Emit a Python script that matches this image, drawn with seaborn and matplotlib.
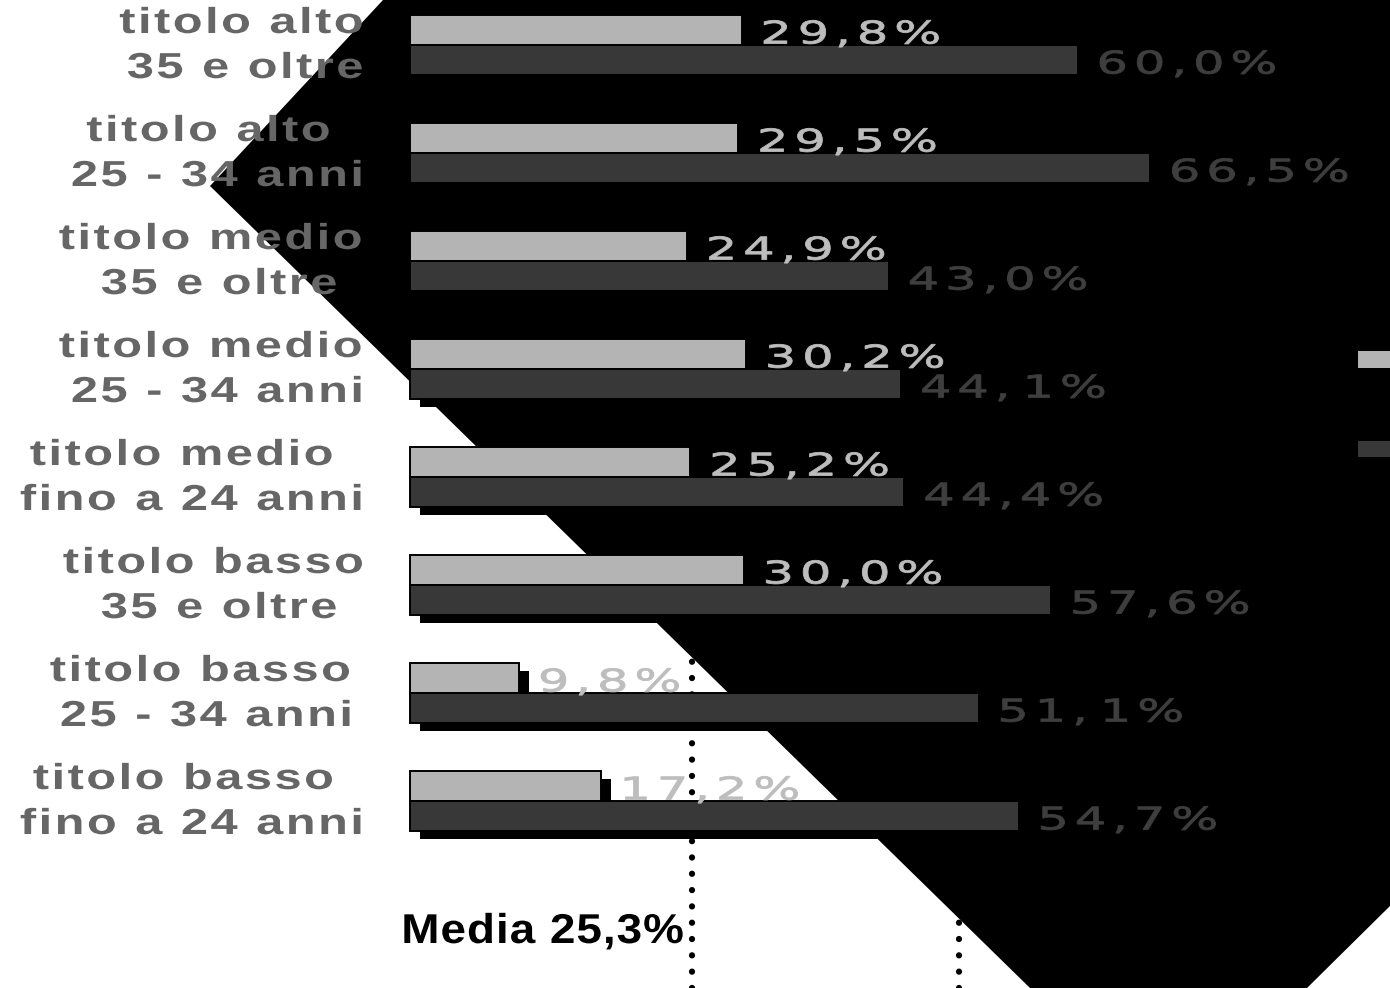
import numpy as np
import pandas as pd
import matplotlib
matplotlib.use("Agg")
import matplotlib.pyplot as plt
import seaborn as sns
from matplotlib.patches import Polygon, Rectangle
from matplotlib.patheffects import AbstractPathEffect
from matplotlib.path import Path
from matplotlib.transforms import IdentityTransform, offset_copy

# ---- data -------------------------------------------------------------
CATEGORIES = [
    "titolo alto\n35 e oltre",
    "titolo alto\n25 - 34 anni",
    "titolo medio\n35 e oltre",
    "titolo medio\n25 - 34 anni",
    "titolo medio\nfino a 24 anni",
    "titolo basso\n35 e oltre",
    "titolo basso\n25 - 34 anni",
    "titolo basso\nfino a 24 anni",
]
SERIES = ["quota 1", "quota 2"]
VALUES_1 = [29.8, 29.5, 24.9, 30.2, 25.2, 30.0, 9.8, 17.2]
VALUES_2 = [60.0, 66.5, 43.0, 44.1, 44.4, 57.6, 51.1, 54.7]
MEAN_1 = 25.3
MEAN_2 = 49.3
MEAN_1_LABEL = "Media 25,3%"

# ---- layout -----------------------------------------------------------
W, H = 1390, 988
X0_PX, PX_PER_UNIT = 410, 11.13      # horizontal value scale
ROW0_PX, ROW_PX = 45, 108            # vertical category scale
LABEL_RIGHT_PX = [(363, 363), (330, 363), (362, 337), (362, 363),
                  (333, 363), (363, 337), (350, 352), (333, 363)]

C_LIGHT, C_DARK = "#b4b4b4", "#383838"
C_LIGHT_TXT, C_DARK_TXT = "#bdbdbd", "#3e3e3e"
C_CAT = "#666666"


class Tracked(AbstractPathEffect):
    """Widen text: stretch glyph outlines horizontally, add letter spacing
    and optionally embolden the outline."""

    def __init__(self, stretch=1.0, track=0.0, anchor="left", weight=0.0):
        super().__init__()
        self.stretch = stretch
        self.track = track
        self.anchor = anchor
        self.weight = weight

    def _draw(self, renderer, gc, path, rgbFace):
        if self.weight > 0 and rgbFace is not None:
            gc0 = renderer.new_gc()
            gc0.copy_properties(gc)
            gc0.set_linewidth(self.weight)
            gc0.set_foreground(rgbFace)
            gc0.set_joinstyle("round")
            renderer.draw_path(gc0, path, IdentityTransform(), rgbFace)
            gc0.restore()
        else:
            renderer.draw_path(gc, path, IdentityTransform(), rgbFace)

    def draw_path(self, renderer, gc, tpath, affine, rgbFace=None):
        path = affine.transform_path(tpath)
        codes = path.codes
        verts = np.array(path.vertices, dtype=float)
        if codes is None or len(verts) == 0:
            self._draw(renderer, gc, path, rgbFace)
            return
        real = codes != Path.CLOSEPOLY
        starts = np.flatnonzero(codes == Path.MOVETO)
        ends = np.append(starts[1:], len(codes))
        spans = []
        for s, e in zip(starts, ends):
            xs = verts[s:e, 0][real[s:e]]
            if len(xs):
                spans.append((xs.min(), xs.max(), s, e))
        if not spans:
            self._draw(renderer, gc, path, rgbFace)
            return
        spans.sort(key=lambda t: t[0])
        clusters = []
        for x0, x1, s, e in spans:
            if clusters and x0 < clusters[-1][1] - 0.5:
                clusters[-1][1] = max(clusters[-1][1], x1)
                clusters[-1][2].append((s, e))
            else:
                clusters.append([x0, x1, [(s, e)]])
        em = abs(affine.get_matrix()[0, 0]) * 100.0
        ink_l = min(c[0] for c in clusters)
        ink_r = max(c[1] for c in clusters)
        ref = {"left": ink_l, "right": ink_r}.get(self.anchor, (ink_l + ink_r) / 2)
        shifts, acc = [], 0.0
        for j, c in enumerate(clusters):
            if j > 0:
                acc += self.track
                if c[0] - clusters[j - 1][1] > 0.2 * em:
                    acc += self.track
            shifts.append(acc)
        total = acc
        base = {"left": 0.0, "right": -total}.get(self.anchor, -total / 2)
        verts[real, 0] = ref + (verts[real, 0] - ref) * self.stretch
        for c, sh in zip(clusters, shifts):
            for s, e in c[2]:
                verts[s:e, 0] += base + sh
        self._draw(renderer, gc, Path(verts, codes), rgbFace)


def fig_xy(x, y):
    return (x / W, 1 - y / H)


sns.set_style("white")
plt.rcParams["font.family"] = ["DejaVu Sans"]

fig = plt.figure(figsize=(W / 100, H / 100), dpi=100)
ax = fig.add_axes([0, 0, 1, 1])
ax.set_facecolor("white")

df = pd.DataFrame({
    "categoria": CATEGORIES * 2,
    "serie": [SERIES[0]] * len(CATEGORIES) + [SERIES[1]] * len(CATEGORIES),
    "valore": VALUES_1 + VALUES_2,
})

sns.barplot(data=df, y="categoria", x="valore", hue="serie", orient="h",
            order=CATEGORIES, hue_order=SERIES, palette=[C_LIGHT, C_DARK],
            width=0.556, edgecolor="black", linewidth=1.4, saturation=1,
            legend=False, ax=ax, zorder=3)

ax.set_xlim(-X0_PX / PX_PER_UNIT, (W - X0_PX) / PX_PER_UNIT)
ax.set_ylim((H - ROW0_PX) / ROW_PX, -ROW0_PX / ROW_PX)
ax.axis("off")

# black backdrop shape
backdrop = Polygon([fig_xy(383, 0), fig_xy(W, 0), fig_xy(W, 906),
                    fig_xy(1307, H), fig_xy(1030, H), fig_xy(210, 186)],
                   closed=True, facecolor="black", edgecolor="none",
                   transform=fig.transFigure, zorder=0.5)
ax.add_patch(backdrop)

# drop shadows under every bar
shadow_tr = offset_copy(ax.transData, fig=fig, x=10, y=-8, units="dots")
for bar in list(ax.patches):
    if isinstance(bar, Rectangle):
        ax.add_patch(Rectangle((bar.get_x(), bar.get_y()), bar.get_width(),
                               bar.get_height(), facecolor="black",
                               edgecolor="none", transform=shadow_tr, zorder=1.5))

# mean reference lines
for mval in (MEAN_1, MEAN_2):
    ax.axvline(mval, color="black", lw=4.5, linestyle=(0, (0.01, 2.6)),
               dash_capstyle="round", zorder=1)

# value labels
gap = 20 / PX_PER_UNIT
half = 0.556 / 4
for i in range(len(CATEGORIES)):
    for vals, off, col in ((VALUES_1, -half, C_LIGHT_TXT), (VALUES_2, half, C_DARK_TXT)):
        v = vals[i]
        ax.text(v + gap, i + off + 0.125, f"{v:.1f}%".replace(".", ","),
                ha="left", va="baseline", fontsize=22.5, color=col,
                family=["DejaVu Sans"], zorder=5,
                path_effects=[Tracked(stretch=1.58, track=6, anchor="left",
                                      weight=0.6)])

# category labels
for i, cat in enumerate(CATEGORIES):
    lines = cat.split("\n")
    for k, (line, base_px) in enumerate(zip(lines, (-12, 33))):
        rx = (LABEL_RIGHT_PX[i][k] - X0_PX) / PX_PER_UNIT
        ax.text(rx, i + base_px / ROW_PX, line, ha="right", va="baseline",
                fontsize=26, fontweight="bold", color=C_CAT,
                family=["Liberation Sans", "DejaVu Sans"], zorder=5,
                path_effects=[Tracked(stretch=1.35, track=2.5, anchor="right")])

# mean label
ax.text(MEAN_1 - 8 / PX_PER_UNIT, (943 - ROW0_PX) / ROW_PX, MEAN_1_LABEL,
        ha="right", va="baseline", fontsize=30, fontweight="bold", color="black",
        family=["Liberation Sans", "DejaVu Sans"], zorder=5,
        path_effects=[Tracked(stretch=1.1, track=1, anchor="right")])

# legend swatches at the right margin
for (top, bottom), col in (((351, 368), C_LIGHT), ((441, 457), C_DARK)):
    x, y = fig_xy(1358, bottom)
    fig.add_artist(Rectangle((x, y), 32 / W, (bottom - top) / H,
                             facecolor=col, edgecolor="none",
                             transform=fig.transFigure, zorder=5))

fig.savefig("out.png", dpi=100)
